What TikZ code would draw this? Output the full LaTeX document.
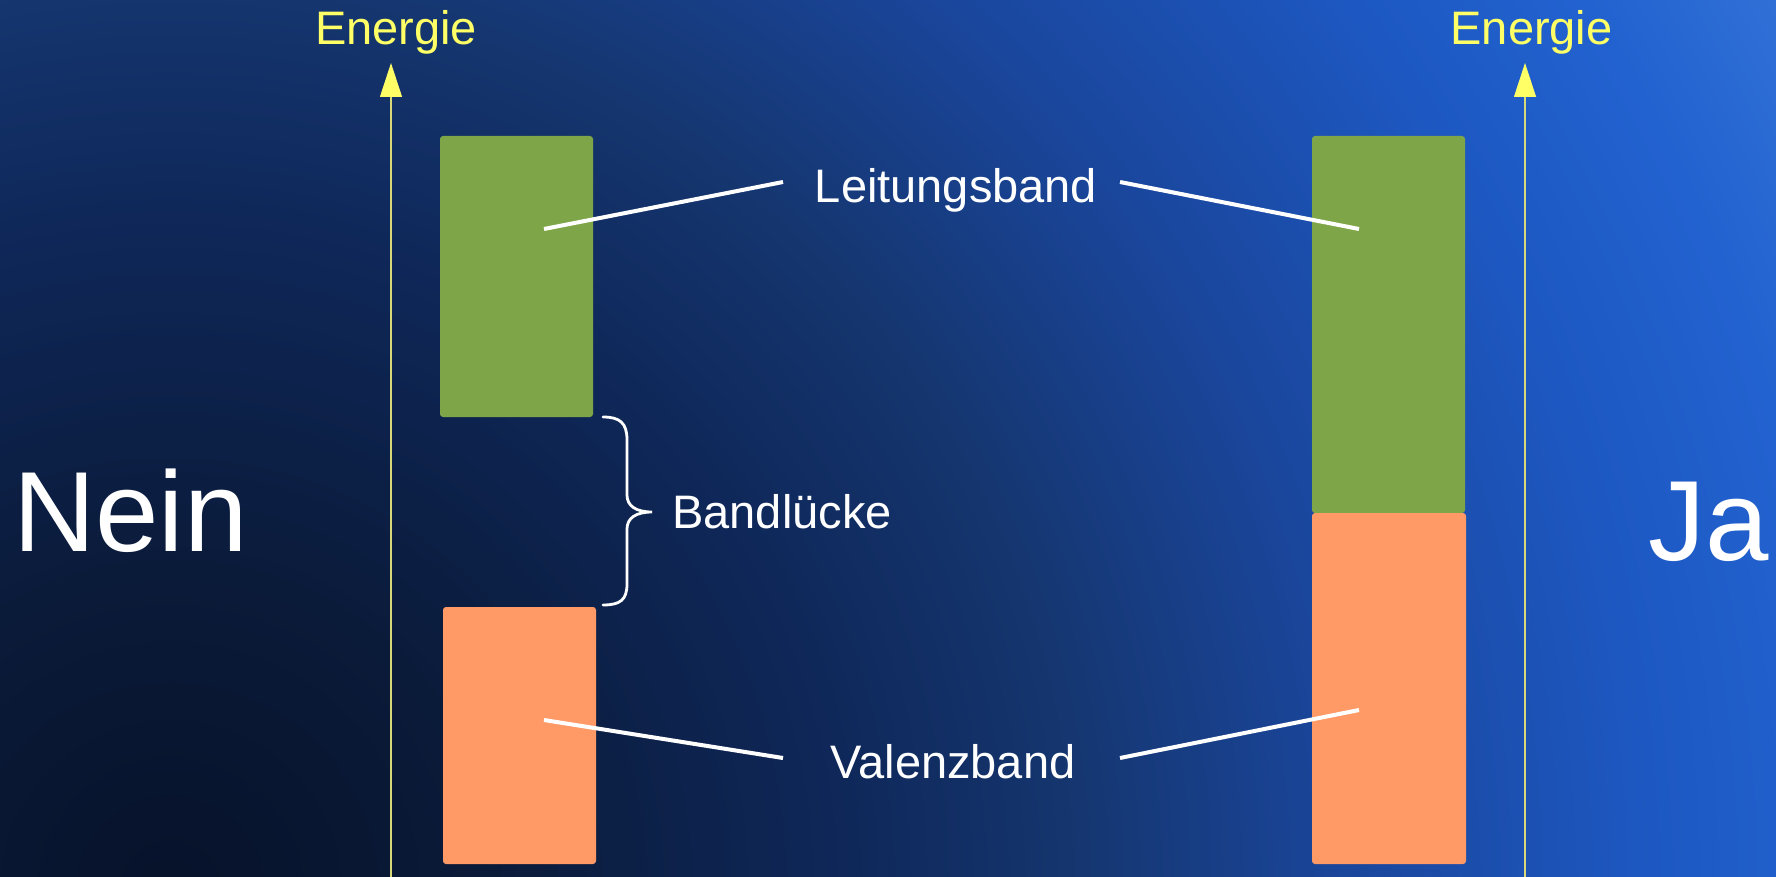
\documentclass[tikz,border=0pt]{standalone}
\usepackage{fontspec}
\setmainfont{Liberation Sans}
\usetikzlibrary{arrows.meta}

\definecolor{bandgreen}{HTML}{7EA648}
\definecolor{bandorange}{HTML}{FF9966}
\definecolor{axisyellow}{HTML}{FFFF66}
\definecolor{axisline}{HTML}{D8D878}
\definecolor{bga}{HTML}{07122A}
\definecolor{bgb}{HTML}{0A1A38}
\definecolor{bgc}{HTML}{0F285A}
\definecolor{bgd}{HTML}{153670}
\definecolor{bge}{HTML}{1A469C}
\definecolor{bgf}{HTML}{1D58C2}
\definecolor{bgg}{HTML}{2262D0}
\definecolor{bgh}{HTML}{3675D8}

% dark glow in the lower left fading to bright blue towards the upper right
% (the shaded circle's radius corresponds to 25bp)
\pgfdeclareradialshading{slideglow}{\pgfpoint{0bp}{0bp}}{%
  color(0bp)=(bga); color(4bp)=(bgb); color(9bp)=(bgc); color(12bp)=(bgd);
  color(15.5bp)=(bge); color(19.5bp)=(bgf); color(22bp)=(bgg); color(25bp)=(bgh);
  color(50bp)=(bgh)}

\begin{document}
\begin{tikzpicture}[x=0.5pt,y=-0.5pt,
  band/.style={rectangle, rounded corners=1.5pt, inner sep=0pt, outer sep=0pt},
  txtlabel/.style={text=white, font=\fontsize{23.5}{28}\selectfont, inner sep=0pt, anchor=base},
  axislabel/.style={txtlabel, text=axisyellow},
  bigword/.style={text=white, font=\fontsize{57}{68}\selectfont, inner sep=0pt, anchor=base},
  leader/.style={white, line width=2pt},
  energyaxis/.style={axisline, line width=0.55pt,
    -{Triangle[width=11pt,length=17pt,color=axisyellow]}},
  gapbrace/.style={white, line width=1.4pt, line cap=round}]

\useasboundingbox (0,0) rectangle (1776,877);

% background
\begin{scope}
  \clip (0,0) rectangle (1776,877);
  \shade[shading=slideglow] (170,890) circle[radius=950pt];
\end{scope}

% energy axes
\coordinate (axLbot) at (391,877);
\coordinate (axLtop) at (391,63);
\coordinate (axRbot) at (1525,877);
\coordinate (axRtop) at (1525,63);
\draw[energyaxis] (axLbot) -- (axLtop);
\draw[energyaxis] (axRbot) -- (axRtop);
\node[axislabel] (enL) at (396,45) {Energie};
\node[axislabel] (enR) at (1531.5,45) {Energie};

% bands: insulator (left) and conductor (right)
\node[band, fill=bandgreen, minimum width=76.5pt, minimum height=140.5pt] (cbL) at (516.5,276.5) {};
\node[band, fill=bandorange, minimum width=76.5pt, minimum height=128.5pt] (vbL) at (519.5,735.5) {};
\node[band, fill=bandgreen, minimum width=76.5pt, minimum height=188.5pt] (cbR) at (1388.5,324.5) {};
\node[band, fill=bandorange, minimum width=77pt, minimum height=175.5pt] (vbR) at (1389,688.5) {};

% labels
\node[txtlabel] (lb) at (956,203) {Leitungsband};
\node[txtlabel] (vb) at (953,778) {Valenzband};
\node[txtlabel] (gap) at (782,528) {Bandlücke};
\node[bigword] (nein) at (130.5,551) {Nein};
\node[bigword] (ja) at (1708.5,560) {Ja};

% leader lines
\coordinate (lbInL) at (544,229);
\coordinate (lbEndL) at (783,182);
\coordinate (lbEndR) at (1120,182);
\coordinate (lbInR) at (1359,229);
\coordinate (vbInL) at (544,720);
\coordinate (vbEndL) at (783,758);
\coordinate (vbEndR) at (1120,758);
\coordinate (vbInR) at (1359,710);
\draw[leader] (lbInL) -- (lbEndL);
\draw[leader] (lbEndR) -- (lbInR);
\draw[leader] (vbInL) -- (vbEndL);
\draw[leader] (vbEndR) -- (vbInR);

% brace marking the band gap
\draw[gapbrace] (603,417) .. controls (620,417) and (627,423) .. (627,440)
  -- (627,495) .. controls (627,506) and (636,512) .. (652,512)
  .. controls (636,512) and (627,518) .. (627,529)
  -- (627,584) .. controls (627,600) and (620,605) .. (603,605);

\end{tikzpicture}
\end{document}
